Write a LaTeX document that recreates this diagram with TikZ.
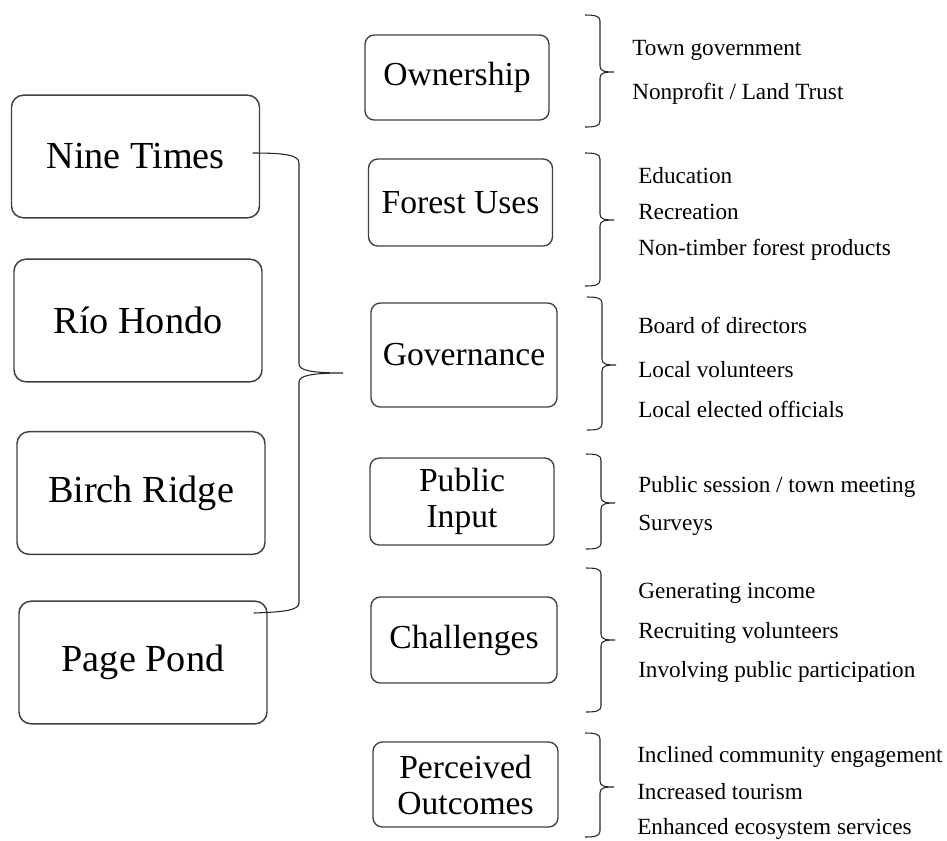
\documentclass[tikz,border=0pt]{standalone}
\usepackage{fontspec}
\setmainfont{Liberation Serif}
\usetikzlibrary{calc}

\tikzset{
	site/.style={draw=black!75, line width=1.1pt, rounded corners=9pt, minimum width=186pt, minimum height=92pt, inner sep=0pt, font=\fontsize{28.7}{30}\selectfont},
	theme/.style={draw=black!75, line width=1pt, rounded corners=7pt, minimum width=138pt, minimum height=64pt, inner sep=0pt, align=center, font=\fontsize{25.2}{27}\selectfont},
	item/.style={anchor=base west, inner sep=0pt, font=\fontsize{17.4}{20}\selectfont},
	brace line/.style={line width=0.8pt, black!85},
}

% x, top, tip, bottom
\newcommand{\listbrace}[4]{%
	\draw[brace line] ({#1-15},#2) .. controls ({#1-5},#2) and (#1,{#2+1}) .. (#1,{#2+6})
		-- (#1,{#3-6}) .. controls (#1,{#3-1}) and ({#1+4},#3) .. ({#1+14},#3)
		.. controls ({#1+4},#3) and (#1,{#3+1}) .. (#1,{#3+6})
		-- (#1,{#4-6}) .. controls (#1,{#4-1}) and ({#1-5},#4) .. ({#1-15},#4);
}

\begin{document}
\begin{tikzpicture}[x=0.75pt, y=-0.75pt]
	\useasboundingbox (0,0) rectangle (947,840);

	\node[site] at (135.5,156.5) (nine) {Nine Times};
	\node[site] at (138,320.5) (rio) {Río Hondo};
	\node[site] at (141,493) (birch) {Birch Ridge};
	\node[site] at (143,662.5) (page) {Page Pond};

	\node[theme, minimum height=63.75pt] at (457,77.5) (own) {Ownership};
	\node[theme, minimum height=65.25pt] at (460.5,202.5) (uses) {Forest Uses};
	\node[theme, minimum width=139.5pt, minimum height=78pt] at (464,355) (gov) {Governance};
	\node[theme, minimum height=65.25pt] at (462,501.5) (input) {Public\\Input};
	\node[theme, minimum width=139.5pt, minimum height=64.5pt] at (464,640) (chal) {Challenges};
	\node[theme, minimum width=138.75pt, minimum height=63.75pt] at (465.5,784.5) (outc) {Perceived\\Outcomes};

	% sites to governance
	\coordinate (topend) at ($(nine.east)+(-7.5,-3.5)$);
	\coordinate (botend) at ($(page.east)+(-14,-49.5)$);
	\coordinate (tip) at (343,373);
	\draw[brace line] (topend) .. controls (285,153) and (299,155) .. (299,163) -- (299,364)
		.. controls (299,370) and (310,373) .. (tip) .. controls (310,373) and (299,376) .. (299,382)
		-- (299,603) .. controls (299,610) and (285,612) .. (botend);

	\listbrace{600}{15}{72}{127}
	\listbrace{600}{153}{220}{286}
	\listbrace{602}{297}{365}{430}
	\listbrace{601}{454}{503}{549}
	\listbrace{601}{568}{640}{712}
	\listbrace{600}{733}{787}{837}

	\node[item] at (632,55) (own1) {Town government};
	\node[item] at (632,99) (own2) {Nonprofit / Land Trust};

	\node[item] at (638,183) (uses1) {Education};
	\node[item] at (638,219) (uses2) {Recreation};
	\node[item] at (638,255) (uses3) {Non-timber forest products};

	\node[item] at (638,333) (gov1) {Board of directors};
	\node[item] at (638,377) (gov2) {Local volunteers};
	\node[item] at (638,417) (gov3) {Local elected officials};

	\node[item] at (638,492) (input1) {Public session / town meeting};
	\node[item] at (638,530) (input2) {Surveys};

	\node[item] at (638,598) (chal1) {Generating income};
	\node[item] at (638,638) (chal2) {Recruiting volunteers};
	\node[item] at (638,677) (chal3) {Involving public participation};

	\node[item] at (637,762) (outc1) {Inclined community engagement};
	\node[item] at (637,799) (outc2) {Increased tourism};
	\node[item] at (637,834) (outc3) {Enhanced ecosystem services};
\end{tikzpicture}
\end{document}
